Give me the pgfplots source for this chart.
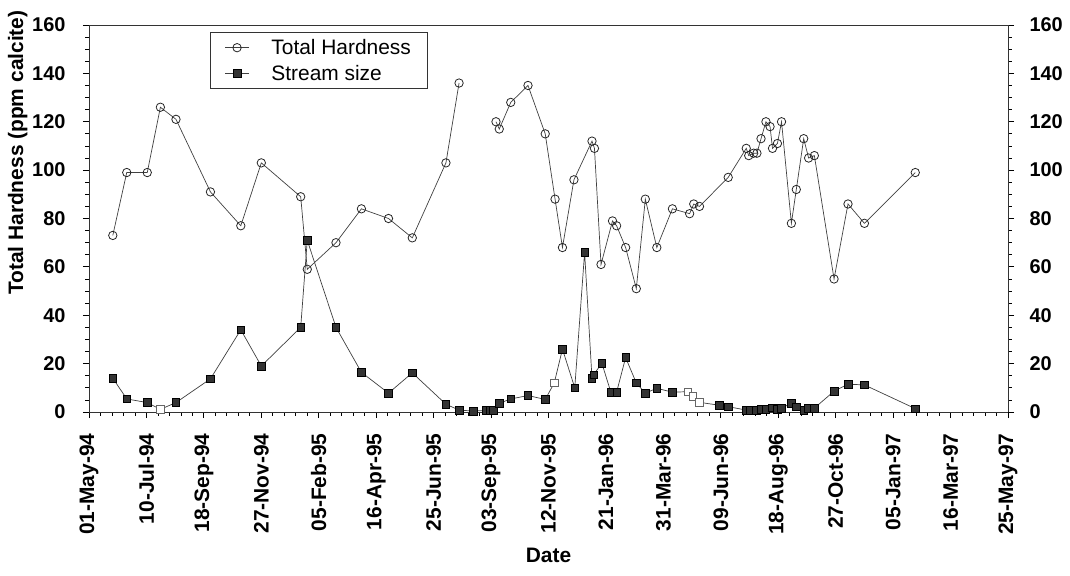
\documentclass[border=0pt]{standalone}
\usepackage{pgfplots}
\pgfplotsset{compat=1.18}
\usepackage{fontspec}
\setmainfont{Liberation Sans}
\begin{document}
\begin{tikzpicture}
\begin{axis}[name=main, scale only axis, width=919bp, height=387bp,
  xmin=0, xmax=1120, ymin=0, ymax=160,
  xtick={0,70,...,1120},
  xticklabels={01-May-94,10-Jul-94,18-Sep-94,27-Nov-94,05-Feb-95,16-Apr-95,25-Jun-95,03-Sep-95,12-Nov-95,21-Jan-96,31-Mar-96,09-Jun-96,18-Aug-96,27-Oct-96,05-Jan-97,16-Mar-97,25-May-97},
  minor x tick num=4,
  ytick={0,20,...,160}, minor y tick num=3,
  xtick pos=lower, ytick pos=left,
  tick align=outside, major tick length=6bp, minor tick length=3.5bp,
  tick style={black, line width=0.8bp},
  /pgf/number format/assume math mode=true,
  x tick label style={rotate=90, anchor=east, font=\fontsize{21}{21}\selectfont\bfseries},
  xticklabel shift=12bp,
  y tick label style={font=\fontsize{20}{20}\selectfont\bfseries},
  yticklabel shift=14bp,
  xlabel={Date}, ylabel={Total Hardness (ppm calcite)},
  label style={font=\fontsize{21}{21}\selectfont\bfseries},
  xlabel style={yshift=-7bp},
  ylabel style={at={(ticklabel cs:0.67)}, yshift=-2bp},
  axis line style={black!80, line width=0.8bp},
  unbounded coords=jump,
  legend style={at={(rel axis cs:0.132,0.982)}, anchor=north west,
    draw=black!80, line width=0.8bp, font=\fontsize{21}{21}\selectfont,
    inner xsep=14bp, inner ysep=5bp, row sep=5bp,
    /tikz/every odd column/.append style={column sep=20bp}},
  legend cell align=left,
  legend image code/.code={\draw[#1] (0bp,0bp) -- (12bp,0bp) (24bp,0bp) -- (12bp,0bp); \path[#1, mark repeat=2] plot coordinates {(12bp,0bp)};},
]
\addplot[black!75, line width=0.7bp, mark=o, mark size=4.2bp, mark options={fill=white, draw=black!85, line width=0.8bp}] coordinates {
(29,73) (46,99) (71,99) (87,126) (106,121) (148,91) (185,77) (210,103)
(258,89) (266,59) (301,70) (332,84) (365,80) (394,72) (435,103) (451,136)
(473,nan)
(496,120) (500,117) (514,128) (535,135) (556,115) (568,88) (577,68) (591,96)
(613,112) (616,109) (624,61) (638,79) (643,77) (654,68) (667,51) (678,88)
(692,68) (711,84) (732,82) (737,86) (744,85) (779,97) (801,109) (804,106)
(810,107) (814,107) (819,113) (825,120) (830,118) (833,109) (839,111) (844,120)
(856,78) (862,92) (871,113) (877,105) (884,106) (908,55) (925,86) (945,78)
(1007,99)
};
\addlegendentry{Total Hardness}
\addplot[black!75, line width=0.7bp, mark=square*, mark size=3.8bp, mark options={fill=black!80, draw=black, line width=0.6bp}] coordinates {
(29,14) (46,5.4) (71,3.9) (87,1.1) (106,3.9) (148,13.7) (185,34) (210,19)
(258,35) (266,71) (301,35) (332,16.4) (365,7.8) (394,16.2) (435,3.2) (451,0.8)
(468,0.4) (484,0.6) (489,0.6) (493,0.8) (500,3.6) (514,5.4) (535,6.8) (556,5.2)
(567,12) (577,26) (592,10) (604,66) (613,14) (615,15.4) (625,20.2) (636,8.2)
(643,8.2) (654,22.5) (667,12) (678,7.8) (692,9.8) (711,8.2) (730,8.4) (736,6.4)
(744,4) (768,2.8) (779,2.2) (801,0.8) (806,0.8) (813,0.8) (819,1) (825,1.2)
(833,1.8) (839,1.2) (844,1.6) (856,3.6) (862,2.2) (871,0.8) (876,1.6) (884,1.6)
(908,8.6) (925,11.5) (945,11.2) (1007,1.4)
};
\addlegendentry{Stream size}
\addplot[only marks, mark=square*, mark size=3.8bp, mark options={fill=white, draw=black!60, line width=0.6bp}, forget plot] coordinates {
(87,1.1) (567,12) (730,8.4) (736,6.4) (744,4)
};
\end{axis}
\begin{axis}[scale only axis, width=919bp, height=387bp,
  xmin=0, xmax=1120, ymin=0, ymax=160,
  axis x line=none, axis y line*=right,
  ytick={0,20,...,160}, minor y tick num=3,
  tick align=outside, major tick length=6bp, minor tick length=3.5bp,
  tick style={black, line width=0.8bp},
  axis line style={black!80, line width=0.8bp},
  /pgf/number format/assume math mode=true,
  y tick label style={font=\fontsize{20}{20}\selectfont\bfseries},
  yticklabel shift=12bp,
]
\end{axis}
\pgfresetboundingbox
\path[use as bounding box] ([xshift=-89bp,yshift=-164bp]main.south west) rectangle ([xshift=62bp,yshift=25bp]main.north east);
\end{tikzpicture}
\end{document}
